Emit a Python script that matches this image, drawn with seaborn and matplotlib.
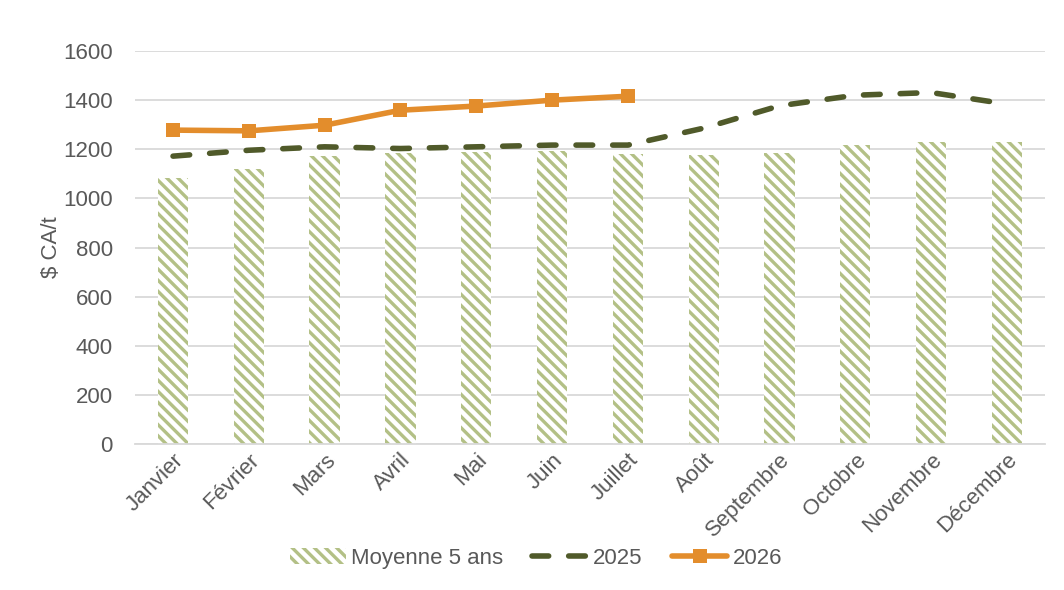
import matplotlib
matplotlib.use("Agg")
import matplotlib.pyplot as plt
import seaborn as sns
import pandas as pd

# Monthly prices, $ CA/t
MONTHS = ['Janvier', 'Février', 'Mars', 'Avril', 'Mai', 'Juin', 'Juillet',
          'Août', 'Septembre', 'Octobre', 'Novembre', 'Décembre']
AVG_5Y = [1082, 1119, 1173, 1186, 1190, 1194, 1180, 1175, 1185, 1217, 1229, 1229]
Y2025 = [1172, 1196, 1210, 1203, 1210, 1217, 1217, 1286, 1377, 1420, 1431, 1384]
Y2026 = [1278, 1275, 1298, 1359, 1376, 1400, 1416]
Y_TICKS = [0, 200, 400, 600, 800, 1000, 1200, 1400, 1600]

HATCH_COLOR = '#B3C086'
C2025 = '#505A2A'
C2026 = '#E38D2C'
TEXT = '#595959'

sns.set_theme(style='white')
plt.rcParams['font.family'] = ['Liberation Sans', 'DejaVu Sans']
plt.rcParams['hatch.linewidth'] = 2.4

df = pd.DataFrame({'mois': MONTHS, 'moy': AVG_5Y, 'y2025': Y2025})
df26 = pd.DataFrame({'mois': MONTHS[:len(Y2026)], 'y2026': Y2026})

fig = plt.figure(figsize=(10.64, 5.9), dpi=100)
ax = fig.add_axes([0.127, 0.2475, 0.855, 0.666])

sns.barplot(data=df, x='mois', y='moy', ax=ax, width=0.4,
            facecolor='white', edgecolor=HATCH_COLOR, linewidth=0,
            hatch='\\\\\\', label='Moyenne 5 ans', zorder=2)

sns.lineplot(data=df, x='mois', y='y2025', ax=ax, color=C2025, linewidth=4.0,
             sort=False, label='2025', zorder=3)
ax.lines[-1].set_dashes((3.0, 3.6))
ax.lines[-1].set_dash_capstyle('round')

sns.lineplot(data=df26, x='mois', y='y2026', ax=ax, color=C2026, linewidth=4.0,
             marker='s', markersize=9.5, markeredgewidth=0, sort=False,
             label='2026', zorder=4)

ax.set_ylim(0, 1600)
ax.set_xlim(-0.5, len(MONTHS) - 0.5)
ax.set_yticks(Y_TICKS)
ax.yaxis.grid(True, color='#D9D9D9', linewidth=1.3, zorder=0)
ax.set_axisbelow(True)
for s in ['top', 'right', 'left']:
    ax.spines[s].set_visible(False)
ax.spines['bottom'].set_color('#D9D9D9')
ax.spines['bottom'].set_linewidth(1.3)

ax.tick_params(axis='y', labelsize=16, colors=TEXT, length=0, pad=16)
ax.tick_params(axis='x', labelsize=16, colors=TEXT, length=0, pad=4)
plt.setp(ax.get_xticklabels(), rotation=45, ha='right', rotation_mode='anchor')
ax.set_xlabel('')
ax.set_ylabel('$ CA/t', fontsize=16, color=TEXT, labelpad=1)

handles, labels = ax.get_legend_handles_labels()
order = [labels.index(n) for n in ['Moyenne 5 ans', '2025', '2026']]
ax.get_legend().remove()
fig.legend([handles[i] for i in order], [labels[i] for i in order],
           loc='center', bbox_to_anchor=(0.504, 0.054),
           ncol=3, frameon=False, fontsize=16, labelcolor=TEXT,
           handlelength=2.5, columnspacing=1.3, handletextpad=0.25)

fig.savefig('out.png', dpi=100)
